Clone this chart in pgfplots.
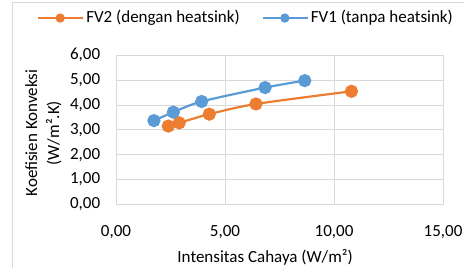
\documentclass[border=0pt]{standalone}
\usepackage{fontspec}
\setmainfont{Carlito}
\usepackage{pgfplots}
\pgfplotsset{compat=1.18}
\definecolor{orng}{HTML}{ED7D31}
\definecolor{blu}{HTML}{5B9BD5}
\definecolor{grd}{HTML}{D9D9D9}
\begin{document}
\fontsize{17}{22}\selectfont
\begin{tikzpicture}
\useasboundingbox (-116pt,-63.7pt) rectangle (348pt,204.3pt);
\draw[grd, line width=1pt] (-103pt,-80pt) -- (-103pt,201.3pt) -- (360pt,201.3pt);
\begin{axis}[
  at={(0,0)}, anchor=south west,
  scale only axis, width=327pt, height=149pt,
  xmin=0, xmax=15, ymin=0, ymax=6,
  xtick={0,5,10,15}, ytick={0,1,2,3,4,5,6},
  grid=major, major grid style={grd, line width=0.8pt},
  axis line style={grd, line width=0.8pt},
  tick style={draw=none},
  font=\fontsize{17}{22}\selectfont,
  /pgf/number format/fixed, /pgf/number format/fixed zerofill,
  /pgf/number format/precision=2, /pgf/number format/use comma,
  /pgf/number format/1000 sep={}, /pgf/number format/assume math mode=true,
  yticklabel style={xshift=-10pt},
  xticklabel style={yshift=-15pt},
  xlabel={Intensitas Cahaya (W/m²)},
  xlabel style={at={(axis description cs:0.456,-0.354)}, anchor=center},
  ylabel={Koefisien Konveksi\\(W/m².K)},
  ylabel style={at={(axis description cs:-0.222,0.478)}, anchor=center, align=center},
  legend columns=2,
  legend style={draw=none, at={(0.3976,1.25)}, anchor=center, fill=none,
    font=\fontsize{17}{22}\selectfont,
    /tikz/every even column/.append style={column sep=20pt}},
  legend image code/.code={\draw[mark repeat=2, mark phase=2, #1, mark size=3.5pt] plot coordinates {(0pt,0pt) (22pt,0pt) (45pt,0pt)};},
]
\addplot[orng, line width=2.2pt, smooth, mark=*, mark size=5.5pt, mark options={fill=orng, draw=orng}] coordinates {
(2.40,3.15) (2.90,3.28) (4.28,3.63) (6.42,4.04) (10.80,4.55)};
\addlegendentry{FV2 (dengan heatsink)}
\addplot[blu, line width=2.2pt, smooth, mark=*, mark size=5.5pt, mark options={fill=blu, draw=blu}] coordinates {
(1.74,3.37) (2.63,3.71) (3.93,4.14) (6.84,4.70) (8.66,4.98)};
\addlegendentry{FV1 (tanpa heatsink)}
\end{axis}
\end{tikzpicture}
\end{document}
